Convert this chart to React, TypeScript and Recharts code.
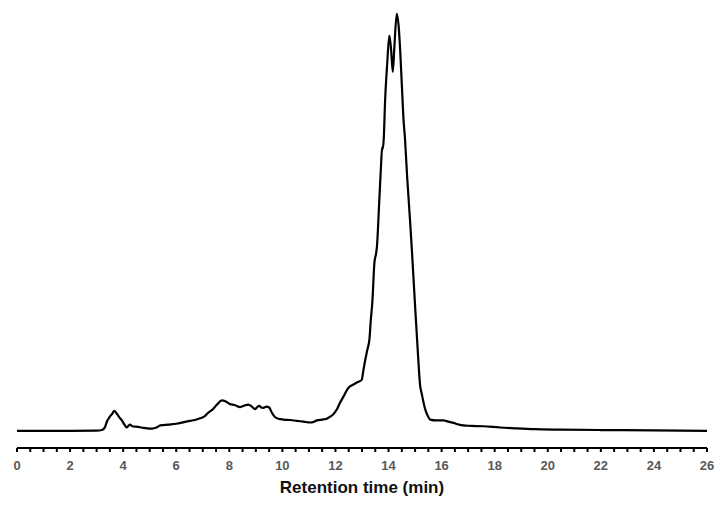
import { Line, LineChart, XAxis, YAxis } from 'recharts';

// retention time (min) and detector signal (relative, peak = 100)
const times = [
  0, 1, 2, 3.0, 3.2, 3.3, 3.4, 3.5, 3.6, 3.66, 3.75, 3.85, 3.95, 4.05, 4.13, 4.2, 4.26, 4.35, 4.5, 4.7,
  4.9, 5.1, 5.25, 5.4, 5.7, 6.0, 6.3, 6.52, 6.7, 6.9, 7.05, 7.2, 7.4, 7.55, 7.72, 7.85, 8.03, 8.2, 8.41,
  8.55, 8.72, 8.85, 8.97, 9.05, 9.13, 9.2, 9.28, 9.4, 9.5, 9.6, 9.72, 9.85, 10.04, 10.3, 10.54, 10.8,
  11.04, 11.2, 11.3, 11.5, 11.67, 11.8, 11.92, 12.05, 12.17, 12.3, 12.49, 12.68, 12.85, 12.99, 13.05,
  13.12, 13.2, 13.28, 13.33, 13.39, 13.47, 13.53, 13.56, 13.65, 13.72, 13.76, 13.78, 13.82, 13.87,
  13.95, 14.03, 14.1, 14.16, 14.22, 14.31, 14.38, 14.44, 14.5, 14.56, 14.62, 14.7, 14.81, 14.88, 15.0,
  15.1, 15.19, 15.25, 15.38, 15.47, 15.57, 15.8, 16.07, 16.25, 16.45, 16.65, 16.82, 17.1, 17.58, 18.2,
  18.84, 19.5, 20.5, 22, 24, 26,
];
const signal = [
  0.1, 0.1, 0.1, 0.15, 0.3, 0.8, 2.5, 3.5, 4.3, 4.9, 4.3, 3.4, 2.6, 1.6, 0.9, 1.3, 1.6, 1.2, 1.1, 0.9,
  0.7, 0.65, 0.9, 1.4, 1.6, 1.8, 2.2, 2.5, 2.7, 3.1, 3.5, 4.4, 5.4, 6.5, 7.4, 7.2, 6.5, 6.3, 5.8,
  6.1, 6.4, 5.9, 5.3, 5.8, 6.1, 5.7, 5.6, 5.9, 5.7, 4.5, 3.4, 3.0, 2.8, 2.7, 2.5, 2.3,
  2.1, 2.3, 2.6, 2.8, 3.0, 3.5, 4.1, 5.2, 6.8, 8.3, 10.4, 11.2, 11.8, 12.3, 14.5,
  17, 19.5, 22, 26.5, 31, 40.5, 42.5, 44, 55, 64, 68, 67.5, 70, 79,
  88, 94.7, 91, 86, 92, 99.9, 97, 91, 83, 75, 70, 61, 50.5, 43.3, 30,
  19.4, 11, 9.0, 5.3, 3.8, 2.8, 2.6, 2.6, 2.3, 2.0, 1.6, 1.4, 1.3, 1.2, 0.9,
  0.7, 0.5, 0.4, 0.3, 0.2, 0.1,
];

const xTicks = [
  0, 0.5, 1, 1.5, 2, 2.5, 3, 3.5, 4, 4.5, 5, 5.5, 6, 6.5, 7, 7.5, 8, 8.5, 9, 9.5, 10, 10.5, 11, 11.5,
  12, 12.5, 13, 13.5, 14, 14.5, 15, 15.5, 16, 16.5, 17, 17.5, 18, 18.5, 19, 19.5, 20, 20.5, 21, 21.5,
  22, 22.5, 23, 23.5, 24, 24.5, 25, 25.5, 26,
];
const labeledTicks = [0, 2, 4, 6, 8, 10, 12, 14, 16, 18, 20, 22, 24, 26];

const data = times.map((t, i) => ({ t, v: signal[i] }));

export default function App() {
  return (
    <div style={{ position: 'absolute', left: 0, top: 0, width: 728, height: 510, background: '#fff' }}>
      <LineChart
        width={728}
        height={510}
        data={data}
        margin={{ top: 5, right: 21, left: 17, bottom: 29 }}
      >
        <XAxis
          type="number"
          dataKey="t"
          domain={[0, 26]}
          ticks={xTicks}
          interval={0}
          height={33}
          tickSize={4}
          tickMargin={9}
          axisLine={{ stroke: '#000', strokeWidth: 2 }}
          tickLine={{ stroke: '#000', strokeWidth: 2 }}
          tickFormatter={(v: number) => (labeledTicks.includes(v) ? String(v) : '')}
          tick={{ fill: '#595959', fontSize: 13, fontWeight: 'bold', fontFamily: 'Liberation Sans, Arial, sans-serif' }}
          label={{
            value: 'Retention time (min)',
            position: 'bottom',
            offset: 0,
            fill: '#111',
            fontSize: 17,
            fontWeight: 'bold',
            fontFamily: 'Liberation Sans, Arial, sans-serif',
          }}
        />
        <YAxis hide domain={[-4, 102]} allowDataOverflow />
        <Line
          type="monotone"
          dataKey="v"
          stroke="#000"
          strokeWidth={2.2}
          dot={false}
          activeDot={false}
          isAnimationActive={false}
        />
      </LineChart>
    </div>
  );
}
